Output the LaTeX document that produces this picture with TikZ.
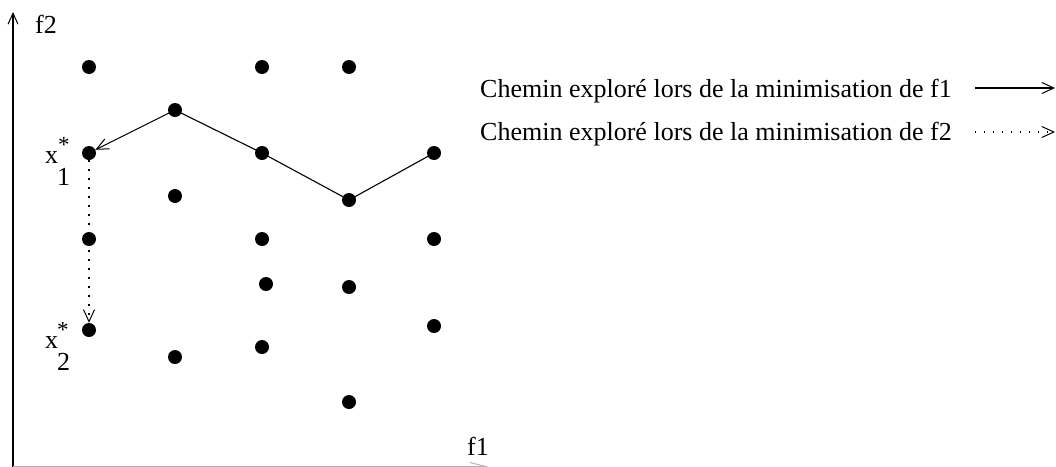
\documentclass[tikz,border=0pt]{standalone}
\usepackage{fontspec}
\setmainfont{Liberation Serif}
\usetikzlibrary{arrows.meta}
\begin{document}
\begin{tikzpicture}[x=1pt,y=-1pt,
  pt/.style={circle,fill=black,inner sep=0pt,minimum size=14pt},
  lbl/.style={anchor=base west,inner sep=0pt,font=\fontsize{26}{30}\selectfont},
  small/.style={anchor=base west,inner sep=0pt,font=\fontsize{23}{27}\selectfont},
  barb/.style={-{Straight Barb[length=12pt,width=11pt,line width=1pt]}},
  solidpath/.style={line width=1.1pt,barb},
  dotpath/.style={line width=1.2pt,dash pattern=on 1.3pt off 7.7pt,barb}]
\useasboundingbox (0,0) rectangle (1056,466);
% axes
\coordinate (o) at (13,466.5);
\coordinate (ytip) at (13,12);
\coordinate (xtip) at (488,466.5);
\draw[line width=1.3pt,-{Straight Barb[length=11pt,width=10pt,line width=1pt]}] (o) -- (ytip);
\draw[line width=1.3pt,gray!60,-{Straight Barb[length=16pt,width=8pt,line width=1pt]}] (o) -- (xtip);
\node[lbl] (f2) at (35,33) {f2};
\node[lbl] (f1) at (467,455) {f1};
% points
\node[pt] (a1) at (89,67) {};
\node[pt] (a2) at (262,67) {};
\node[pt] (a3) at (349,67) {};
\node[pt] (b1) at (175,110) {};
\node[pt] (x1) at (89,153) {};
\node[pt] (c2) at (262,153) {};
\node[pt] (c3) at (434,153) {};
\node[pt] (d1) at (175,196) {};
\node[pt] (d2) at (349,200) {};
\node[pt] (e1) at (89,239) {};
\node[pt] (e2) at (262,239) {};
\node[pt] (e3) at (434,239) {};
\node[pt] (g1) at (266,284) {};
\node[pt] (g2) at (349,287) {};
\node[pt] (h1) at (434,326) {};
\node[pt] (x2) at (89,330) {};
\node[pt] (i1) at (262,347) {};
\node[pt] (i2) at (175,357) {};
\node[pt] (j1) at (349,402) {};
% labels x*
\node[lbl] (lx1) at (45,163) {x};
\node[small] (sx1) at (58,152) {*};
\node[lbl] (nx1) at (57,185) {1};
\node[lbl] (lx2) at (45,348) {x};
\node[small] (sx2) at (57,337) {*};
\node[lbl] (nx2) at (57,370) {2};
% paths
\draw[line width=1.1pt] (c3.center) -- (d2.center) -- (c2.center) -- (b1.center);
\draw[solidpath] (b1.center) -- (x1);
\draw[dotpath] (x1) -- (x2);
% legend
\node[lbl] (t1) at (480,97) {Chemin exploré lors de la minimisation de f1};
\node[lbl] (t2) at (480,140) {Chemin exploré lors de la minimisation de f2};
\coordinate (s1) at (975,88);
\coordinate (e1l) at (1055,88);
\coordinate (s2) at (975,132);
\coordinate (e2l) at (1055,132);
\draw[solidpath] (s1) -- (e1l);
\draw[dotpath] (s2) -- (e2l);
\end{tikzpicture}
\end{document}
